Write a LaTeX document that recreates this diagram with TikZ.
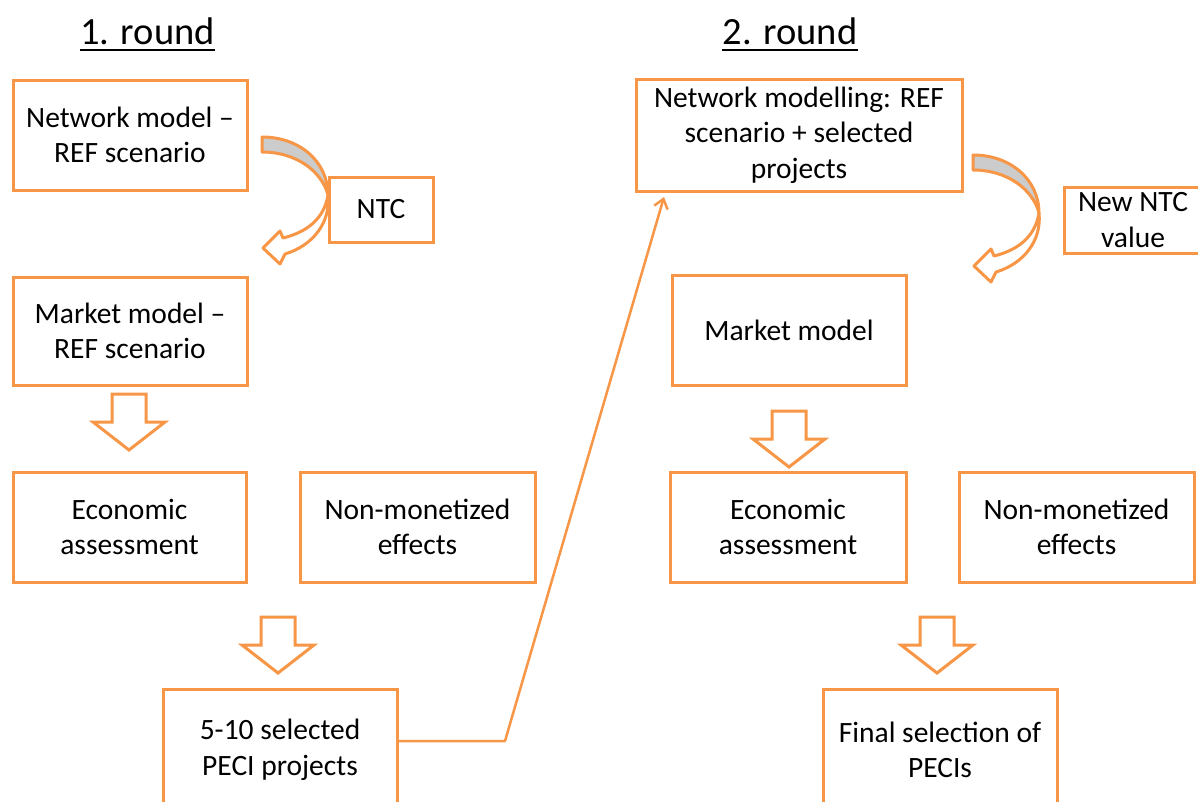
\documentclass[tikz,border=0pt]{standalone}
\usepackage{fontspec}
\setmainfont{Carlito}
\usetikzlibrary{arrows.meta}
\definecolor{accent}{RGB}{247,150,70}
\definecolor{bandgray}{RGB}{204,204,204}
\tikzset{
  box/.style={draw=accent, line width=3pt, fill=white, align=center,
    font=\fontsize{29.5}{35.5}\selectfont, inner sep=0pt},
  roundtitle/.style={font=\fontsize{38.5}{44}\selectfont, inner sep=0pt, anchor=base},
  blockarrow/.style={draw=accent, line width=3pt, fill=white, line join=miter},
  curvedband/.style={draw=accent, line width=3pt, line join=round},
  conn/.style={draw=accent, line width=2.5pt, line join=round,
    -{Straight Barb[length=9pt,width=14pt,line width=2.5pt]}},
  downarrow/.pic={
    \path[blockarrow] (-17,0) -- (17,0) -- (17,28) -- (36,28) -- (0,56)
      -- (-36,28) -- (-17,28) -- cycle;
  },
  curvedarrow/.pic={
    \path[curvedband, fill=bandgray] (0,0) .. controls (38,0) and (66,25) .. (66,58)
      .. controls (60,35) and (35,15) .. (0,15) -- cycle;
    \path[curvedband, fill=white] (66,58) .. controls (69,86) and (50,109) .. (23,117)
      -- (18,127) -- (1,111) -- (18,94) -- (21,101)
      .. controls (45,95) and (62,82) .. (66,58) -- cycle;
  }
}
\begin{document}
\begin{tikzpicture}[x=1pt,y=-1pt]
\useasboundingbox (0,0) rectangle (1198,801);
\begin{scope}
\clip (0,0) rectangle (1198,801);

% titles
\node[roundtitle] (t1) at (147.5,44) {1. round};
\node[roundtitle] (t2) at (790,44) {2. round};
\draw[line width=2pt] ([yshift=-6pt]t1.base west) -- ([yshift=-6pt]t1.base east);
\draw[line width=2pt] ([yshift=-6pt]t2.base west) -- ([yshift=-6pt]t2.base east);

% round 1
\node[box, minimum width=234pt, minimum height=110pt] (net1) at (130,135) {Network model --\\REF scenario};
\node[box, minimum width=104pt, minimum height=65pt] (ntc) at (381,209.5) {NTC};
\node[box, minimum width=234pt, minimum height=108pt] (mkt1) at (130,331) {Market model --\\REF scenario};
\node[box, minimum width=233pt, minimum height=110pt] (eco1) at (129.5,527) {Economic\\assessment};
\node[box, minimum width=235pt, minimum height=110pt] (non1) at (417.5,527) {Non-monetized\\effects};
\node[box, minimum width=234pt, minimum height=122pt] (sel1) at (280,750) {5-10 selected\\PECI projects};

% round 2
\node[box, minimum width=326pt, minimum height=112pt] (net2) at (799,135) {Network modelling: REF\\scenario + selected\\projects};
\node[box, minimum width=138pt, minimum height=66pt] (newntc) at (1133,220) {New NTC\\value};
\node[box, minimum width=234pt, minimum height=110pt] (mkt2) at (789,330) {Market model};
\node[box, minimum width=236pt, minimum height=110pt] (eco2) at (788,527) {Economic\\assessment};
\node[box, minimum width=235pt, minimum height=110pt] (non2) at (1076.5,527) {Non-monetized\\effects};
\node[box, minimum width=234pt, minimum height=122pt] (fin2) at (940,750) {Final selection of\\PECIs};

% curved arrows
\pic at (262,137) {curvedarrow};
\pic at (973,155) {curvedarrow};

% block arrows
\pic at (129,394) {downarrow};
\pic at (789,411) {downarrow};
\pic at (278,617) {downarrow};
\pic at (937,617) {downarrow};

% connector
\coordinate (bend) at (505,741);
\coordinate (tip) at (664,197);
\draw[conn] (sel1.east |- bend) -- (bend) -- (tip);
\end{scope}
\end{tikzpicture}
\end{document}
